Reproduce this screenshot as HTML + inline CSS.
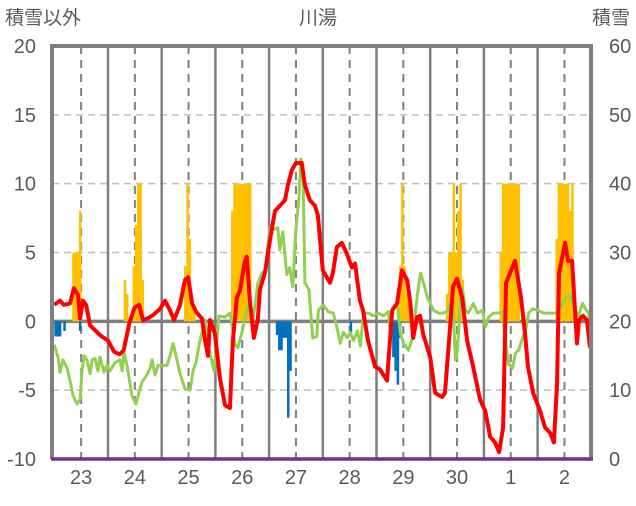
<!DOCTYPE html>
<html><head><meta charset="utf-8"><style>
html,body{margin:0;padding:0;background:#fff;}
svg text{font-family:"Liberation Sans","Noto Sans CJK JP",sans-serif;fill:#595959;}
</style></head><body>
<svg id="chart" width="636" height="501" viewBox="0 0 636 501" xmlns="http://www.w3.org/2000/svg">
<g id="grid"></g>
<g id="bars"></g>
<g id="lines"></g>
<g id="axes"></g>
<text x="5" y="24" font-size="19">積雪以外</text>
<text x="318" y="24" font-size="19" text-anchor="middle">川湯</text>
<text x="630" y="24" font-size="19" text-anchor="end">積雪</text>
</svg>
<script>
const dayLabels=["23","24","25","26","27","28","29","30","1","2"];
const leftTicks=[20,15,10,5,0,-5,-10];
const rightTicks=[60,50,40,30,20,10,0];
const redHours=[0,2.5,4.3,7,8.8,10.6,11.5,12.8,14.2,16,17.3,20.4,24,26.7,29.2,31,33.6,35.9,37.9,39.6,41.4,43.7,47.2,49.5,51.7,53.5,56.2,58.4,59.8,61.6,63.3,66,67.4,68.7,69.6,71.8,74,76.3,78.5,79.8,81.6,82.9,85.1,86,87.4,89.2,91,91.9,94.2,96.4,98.6,100.8,103.1,104.4,106.2,108,110.6,112,114.2,116.5,117.8,120,123.2,124.5,126.3,128.5,130.8,133,134.4,136.6,138,140.2,143.4,145.6,148.7,151,153.2,155.4,157.7,159,160.4,162.1,163.5,164.8,168,170.2,173.3,174.6,176.9,178.2,180,182.3,184.5,187.2,190.3,192.6,194.8,197,198.8,200.6,201.9,203.7,205.9,207.3,208.6,210.4,211.7,214,217.1,219.3,221.6,223.3,224.7,225.6,228.3,229.6,231.4,233.6,234.5,236.3,238,239.4];
const redValues=[1.2,1.5,1.2,1.3,2.4,1.9,0.2,1.5,1.2,-0.3,-0.5,-1,-1.4,-2.2,-2.4,-2.1,-0.1,1,1.2,0.1,0.2,0.4,0.9,1.5,0.8,0.1,1.2,3,3.2,1.3,0.7,0.2,-1.4,-2.5,0.1,-0.9,-4.1,-6.1,-6.3,-1.4,1.7,2.2,4.3,4.7,1.5,-1.2,0.2,2.3,3.6,5.9,8,8.4,8.8,9.9,11,11.5,11.5,9.9,8.8,8.4,7.7,3.7,2.8,3.5,5.4,5.7,4.9,3.9,4.2,1.5,0.8,-1.4,-3.3,-3.5,-4.3,0.8,1.3,3.7,3,1.5,-1.2,0.3,0.4,-0.9,-2.6,-5.2,-5.5,-5.2,-0.4,2.5,3.1,1.7,-1.4,-3.3,-5.7,-6.5,-8.4,-8.8,-9.5,-7.7,2.8,3.5,4.4,3,1.7,-0.9,-3.3,-5.2,-6.5,-7.7,-8.1,-8.8,-4.5,3.5,5.7,4.4,4.4,-1.6,0.1,0.4,0.1,-1.9];
const greenHours=[0,1.8,2.5,3.9,5.7,7,8.4,10.1,11.5,12.4,13.3,14.6,16,16.9,18.2,19.5,20.4,22.2,23.6,24.9,27.1,29.4,30.3,31.2,32.5,34.7,36.5,38.3,39.2,41.4,42.8,43.7,45,46.4,48.6,50.4,51.7,53.1,54.8,56.2,58.4,60.7,62,63.3,65.1,67.4,68.7,71.4,73.6,76.3,78.5,80.8,82.1,84.3,86.6,88.8,91,92.8,94.2,96.4,98.6,99.9,100.8,102.1,103.9,105.2,106.6,107.9,109.3,110.2,111.1,112,113.8,115.5,117.3,118,120.2,122.4,124.7,126.5,127.8,129.2,131,132.3,133.7,135.5,136.8,138.2,140.4,142.6,144.9,147.1,149.3,150.2,151.6,153.3,154.7,156.1,158.3,160.1,162.3,163.7,165,166.8,168.1,169.5,171.7,173.9,176.2,177.9,178.4,179.3,180.2,181.5,182.4,183.8,185.1,187.3,189.1,191.4,192.7,194.1,196.3,198.5,200.3,201.2,203,204.8,206.1,207.5,209.3,210.6,212,213.8,216,218.7,221.8,224,226.3,228.5,230.7,232.1,234.3,236.1,237.4,238.8,239.7];
const greenValues=[-1.7,-2.7,-3.7,-2.8,-3.4,-4.3,-5.4,-6,-5.7,-3.6,-2.5,-2.8,-3.8,-2.8,-2.7,-3.6,-2.6,-3.7,-3.2,-3.6,-3,-2.8,-3.6,-2.3,-3.2,-5.4,-6,-4.9,-4.4,-3.9,-3.4,-2.8,-3.9,-3.2,-3.2,-3.2,-2.5,-1.6,-2.8,-3.8,-4.9,-5,-3.6,-3,-1.4,0.1,-1.7,-3.6,0.4,0.3,0.6,-1.7,-1.9,-0.5,1.2,0.1,2.8,3.5,3.7,6.8,6.7,6.8,5.2,6.5,3.4,3.9,2.5,6.5,8.9,11.8,11.4,2.8,2.3,-1.2,-1.1,0.8,1.2,0.7,0.6,-0.6,-1.6,-0.8,-1.2,-0.8,-1.4,-0.7,-1.8,0.6,0.6,0.4,0.6,0.4,0.7,-0.9,1,1.2,-0.9,-1.6,-2.1,-1.2,2,3.5,2.8,1.7,1.3,0.8,0.6,0.6,0.8,1.7,0.3,-2.8,-2.1,1.5,2.4,0.8,0.6,1.3,0.6,0.8,-0.4,0.3,0.6,0.6,0.7,-0.9,-3.1,-3.4,-2.3,-2.1,-1.2,-0.7,0.6,0.9,0.8,0.6,0.6,0.6,1,1.7,1.9,1,0.4,1.3,0.9,0.6,-0.8];
const snowHours=[8,9,10,11,31,32,35,36,37,38,39,58,59,60,61,62,79,80,81,82,83,84,85,86,87,154,155,156,157,158,175,176,177,178,179,180,181,182,199,200,201,202,203,204,205,206,207,224,225,226,227,228,229,230,231];
const snowValues=[30,30,30,36,26,24,28,34,40,40,26,28,40,32,22,22,36,40,40,40,40,40,40,40,40,28,40,28,24,24,24,30,30,40,30,36,40,26,30,40,40,40,40,40,40,40,40,32,40,40,40,40,40,36,40];
const otherHours=[0,1,2,4,11,99,100,101,102,103,104,105,132,151,152,153,154];
const otherValues=[-1.1,-1.1,-1.1,-0.7,-0.7,-1,-2.1,-2.1,-1.2,-1.2,-7,-3.6,-0.9,-2.6,-3.6,-4.6,-1.2];

const NS="http://www.w3.org/2000/svg";
const X0=54.3,DAYW=53.7,YTOP=46,YBOT=459,PL=52,PR=591;
const xH=h=>X0+h/24*DAYW;
const yL=v=>YTOP+(20-v)/30*(YBOT-YTOP);
const yR=v=>YBOT-v/60*(YBOT-YTOP);
function el(tag,attrs,parent){const e=document.createElementNS(NS,tag);for(const k in attrs)e.setAttribute(k,attrs[k]);parent.appendChild(e);return e;}
const grid=document.getElementById('grid'),bars=document.getElementById('bars'),lines=document.getElementById('lines'),axes=document.getElementById('axes');

leftTicks.forEach(v=>{
  if(v!==20&&v!==-10&&v!==0){const g=el('line',{x1:PL,x2:PR,y1:yL(v),y2:yL(v),stroke:'#bfbfbf','stroke-width':1.5,'stroke-dasharray':'7,5'},grid);
  
  }
  const t=el('text',{x:36,y:yL(v)+7,'font-size':20,'text-anchor':'end'},axes);t.textContent=String(v);
  
  
});
rightTicks.forEach(v=>{
  const t=el('text',{x:609,y:yR(v)+7,'font-size':20},axes);t.textContent=String(v);
  
  
});
dayLabels.forEach((d,i)=>{
  const xd=X0+(i+0.5)*DAYW;
  const dl=el('line',{x1:xd,x2:xd,y1:YTOP,y2:YBOT,stroke:'#7f7f7f','stroke-width':2,'stroke-dasharray':'8,6'},grid);
  
  
  if(i>0){const sl=el('line',{x1:X0+i*DAYW,x2:X0+i*DAYW,y1:YTOP,y2:YBOT,stroke:'#7f7f7f','stroke-width':2.5},grid);
  
  }
  const t=el('text',{x:xd,y:484,'font-size':20,'text-anchor':'middle'},axes);t.textContent=d;
  
  
});
const bw=DAYW/24;
snowHours.forEach((h,i)=>{
  const top=yR(snowValues[i]),base=yL(0);
  const r=el('rect',{x:xH(h),y:top,width:bw+0.3,height:Math.max(0,base-top),fill:'#ffc000'},bars);
  
  
});
otherHours.forEach((h,i)=>{
  const r=el('rect',{x:xH(h),y:yL(0),width:bw+0.3,height:yL(otherValues[i])-yL(0),fill:'#0070c0'},bars);
  
  
});
const zl=el('line',{x1:PL,x2:PR,y1:yL(0),y2:yL(0),stroke:'#7f7f7f','stroke-width':3.5},grid);


const gp=el('polyline',{points:greenHours.map((h,i)=>xH(h)+','+yL(greenValues[i])).join(' '),fill:'none',stroke:'#92d050','stroke-width':3,'stroke-linejoin':'round'},lines);


const rp=el('polyline',{points:redHours.map((h,i)=>xH(h)+','+yL(redValues[i])).join(' '),fill:'none',stroke:'#ff0000','stroke-width':4,'stroke-linejoin':'round'},lines);


const fr=el('path',{d:`M${PL} ${YBOT} V${YTOP} H${PR} V${YBOT}`,fill:'none',stroke:'#7f7f7f','stroke-width':4},axes);


const bl=el('line',{x1:PL-1,x2:PR+2,y1:YBOT,y2:YBOT,stroke:'#7030a0','stroke-width':3.5},axes);


</script>
</body></html>
